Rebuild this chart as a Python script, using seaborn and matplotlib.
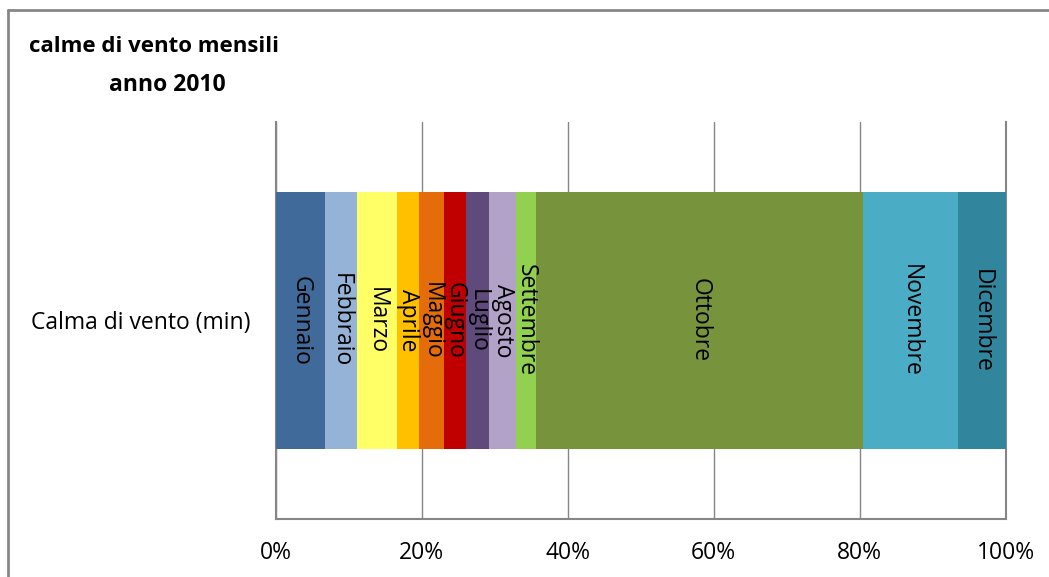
import matplotlib
matplotlib.use("Agg")
import matplotlib.pyplot as plt
import seaborn as sns
import numpy as np
import pandas as pd
from matplotlib.lines import Line2D
from matplotlib.ticker import FuncFormatter

sns.set_theme(style="white")
plt.rcParams['font.family'] = ['Open Sans', 'DejaVu Sans']

category = "Calma di vento (min)"
months = ["Gennaio", "Febbraio", "Marzo", "Aprile", "Maggio", "Giugno",
          "Luglio", "Agosto", "Settembre", "Ottobre", "Novembre", "Dicembre"]
shares = [6.76, 4.39, 5.48, 3.02, 3.43, 3.01, 3.16, 3.66, 2.78, 44.84, 12.90, 6.57]
colors = ["#3F6A99", "#95B3D7", "#FFFF66", "#FFC000", "#E46C0A", "#C00000",
          "#604A7B", "#B2A2C7", "#92D050", "#77933C", "#4BACC6", "#31859C"]
xticks = [0, 20, 40, 60, 80, 100]
title_lines = ["calme di vento mensili", "anno 2010"]

vals = np.array(shares, dtype=float)
vals = vals / vals.sum() * 100
cum = np.cumsum(vals)
df = pd.DataFrame({"mese": months, "quota": vals, "cum": cum,
                   "cat": [category] * len(months)})

fig = plt.figure(figsize=(10.49, 5.77), dpi=100)
ax = fig.add_axes([0.2628, 0.1005, 0.9586 - 0.2628, 0.7886 - 0.1005])

for i in range(len(months) - 1, -1, -1):
    sns.barplot(data=df.iloc[[i]], x="cum", y="cat", color=colors[i],
                width=0.645, linewidth=0, saturation=1, ax=ax, zorder=3)

for i, row in df.iterrows():
    ax.text(row["cum"] - row["quota"] / 2, 0.0, row["mese"], rotation=270,
            ha="center", va="center", fontsize=16.5, color="black", zorder=4)

ax.set_xlim(0, 100)
ax.set_ylim(0.5, -0.5)
ax.set_xticks(xticks)
ax.xaxis.set_major_formatter(FuncFormatter(lambda v, p: f"{int(v)}%"))
ax.set_xlabel("")
ax.set_ylabel("")
ax.grid(axis="x", color="#868686", linewidth=1, zorder=0)
ax.grid(axis="y", visible=False)
ax.tick_params(axis="x", length=0, pad=16, labelsize=16.5, colors="black")
ax.tick_params(axis="y", length=0, pad=18, labelsize=16.5, colors="black")
for s in ["left", "bottom", "right"]:
    ax.spines[s].set_color("#868686")
    ax.spines[s].set_linewidth(1.5)
ax.spines["top"].set_visible(False)

fig.text(154 / 1049, 1 - 47 / 577, title_lines[0], ha="center", va="center",
         fontsize=16, fontweight="bold", color="black")
fig.text(167 / 1049, 1 - 85 / 577, title_lines[1], ha="center", va="center",
         fontsize=16.5, fontweight="bold", color="black")

fig.add_artist(Line2D([7.5 / 1049, 7.5 / 1049], [0, 1 - 10 / 577],
                      transform=fig.transFigure, color="#868686", linewidth=2))
fig.add_artist(Line2D([7.5 / 1049, 1], [1 - 10 / 577, 1 - 10 / 577],
                      transform=fig.transFigure, color="#868686", linewidth=2))

fig.savefig("out.png", dpi=100)
